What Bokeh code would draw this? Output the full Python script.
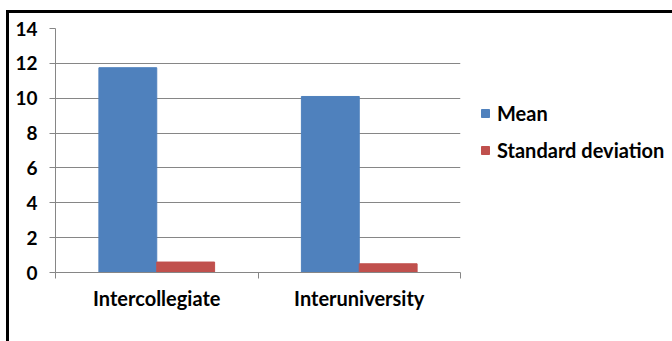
from bokeh.plotting import figure
from bokeh.models import (ColumnDataSource, Range1d, FixedTicker, Legend, LegendItem)
from bokeh.embed import file_html
from bokeh.resources import INLINE

categories = ["Intercollegiate", "Interuniversity"]
mean_values = [11.75, 10.1]
sd_values = [0.6, 0.5]
y_ticks = [0, 2, 4, 6, 8, 10, 12, 14]

n = len(categories)
bar_w = 1 / 3.5
idx = list(range(n))
src_mean = ColumnDataSource(dict(x=[i + 0.5 - bar_w / 2 for i in idx], top=mean_values))
src_sd = ColumnDataSource(dict(x=[i + 0.5 + bar_w / 2 for i in idx], top=sd_values))

FONT = "Lato"
GRID = "#868686"

p = figure(frame_width=405, frame_height=244,
           min_border_left=46, min_border_right=212, min_border_top=15, min_border_bottom=69,
           x_range=Range1d(0, n), y_range=Range1d(0, 14),
           output_backend="svg", toolbar_location=None, outline_line_color=None,
           styles={"margin-left": "6px", "margin-top": "10px",
                   "border-top": "3px solid black", "border-left": "3px solid black"})

r1 = p.vbar(x="x", top="top", width=bar_w, source=src_mean, fill_color="#4F81BD",
            line_color="#4F81BD")
r2 = p.vbar(x="x", top="top", width=bar_w, source=src_sd, fill_color="#C0504D",
            line_color="#C0504D")

# y axis
p.yaxis.ticker = FixedTicker(ticks=y_ticks)
p.yaxis.axis_line_color = GRID
p.yaxis.major_tick_line_color = GRID
p.yaxis.major_tick_out = 6
p.yaxis.major_tick_in = 0
p.yaxis.minor_tick_line_color = None
p.yaxis.major_label_standoff = 12
p.yaxis.major_label_text_font = FONT
p.yaxis.major_label_text_font_style = "bold"
p.yaxis.major_label_text_font_size = "19px"
p.yaxis.major_label_text_color = "black"

# x axis: labels at category centres, tick marks at boundaries
centers = [i + 0.5 for i in idx]
p.xaxis.ticker = FixedTicker(ticks=centers, minor_ticks=list(range(n + 1)))
p.xaxis.major_label_overrides = {c: lab for c, lab in zip(centers, categories)}
p.xaxis.axis_line_color = GRID
p.xaxis.major_tick_line_color = None
p.xaxis.major_tick_out = 0
p.xaxis.major_tick_in = 0
p.xaxis.minor_tick_line_color = GRID
p.xaxis.minor_tick_out = 6
p.xaxis.minor_tick_in = 0
p.xaxis.major_label_standoff = 7
p.xaxis.major_label_text_font = FONT
p.xaxis.major_label_text_font_style = "bold"
p.xaxis.major_label_text_font_size = "20px"
p.xaxis.major_label_text_color = "black"

p.xgrid.grid_line_color = None
p.ygrid.grid_line_color = GRID
p.ygrid.ticker = FixedTicker(ticks=y_ticks)

legend = Legend(items=[LegendItem(label="Mean", renderers=[r1]),
                       LegendItem(label="Standard deviation", renderers=[r2])],
                location=(20, 110), orientation="vertical",
                glyph_width=10, glyph_height=10, label_height=20, spacing=13,
                label_standoff=7, padding=0, margin=0,
                border_line_color=None, background_fill_alpha=0,
                label_text_font=FONT, label_text_font_style="bold",
                label_text_font_size="20px", label_text_color="black")
p.add_layout(legend, "right")

open("out.html", "w").write(file_html(p, INLINE))
